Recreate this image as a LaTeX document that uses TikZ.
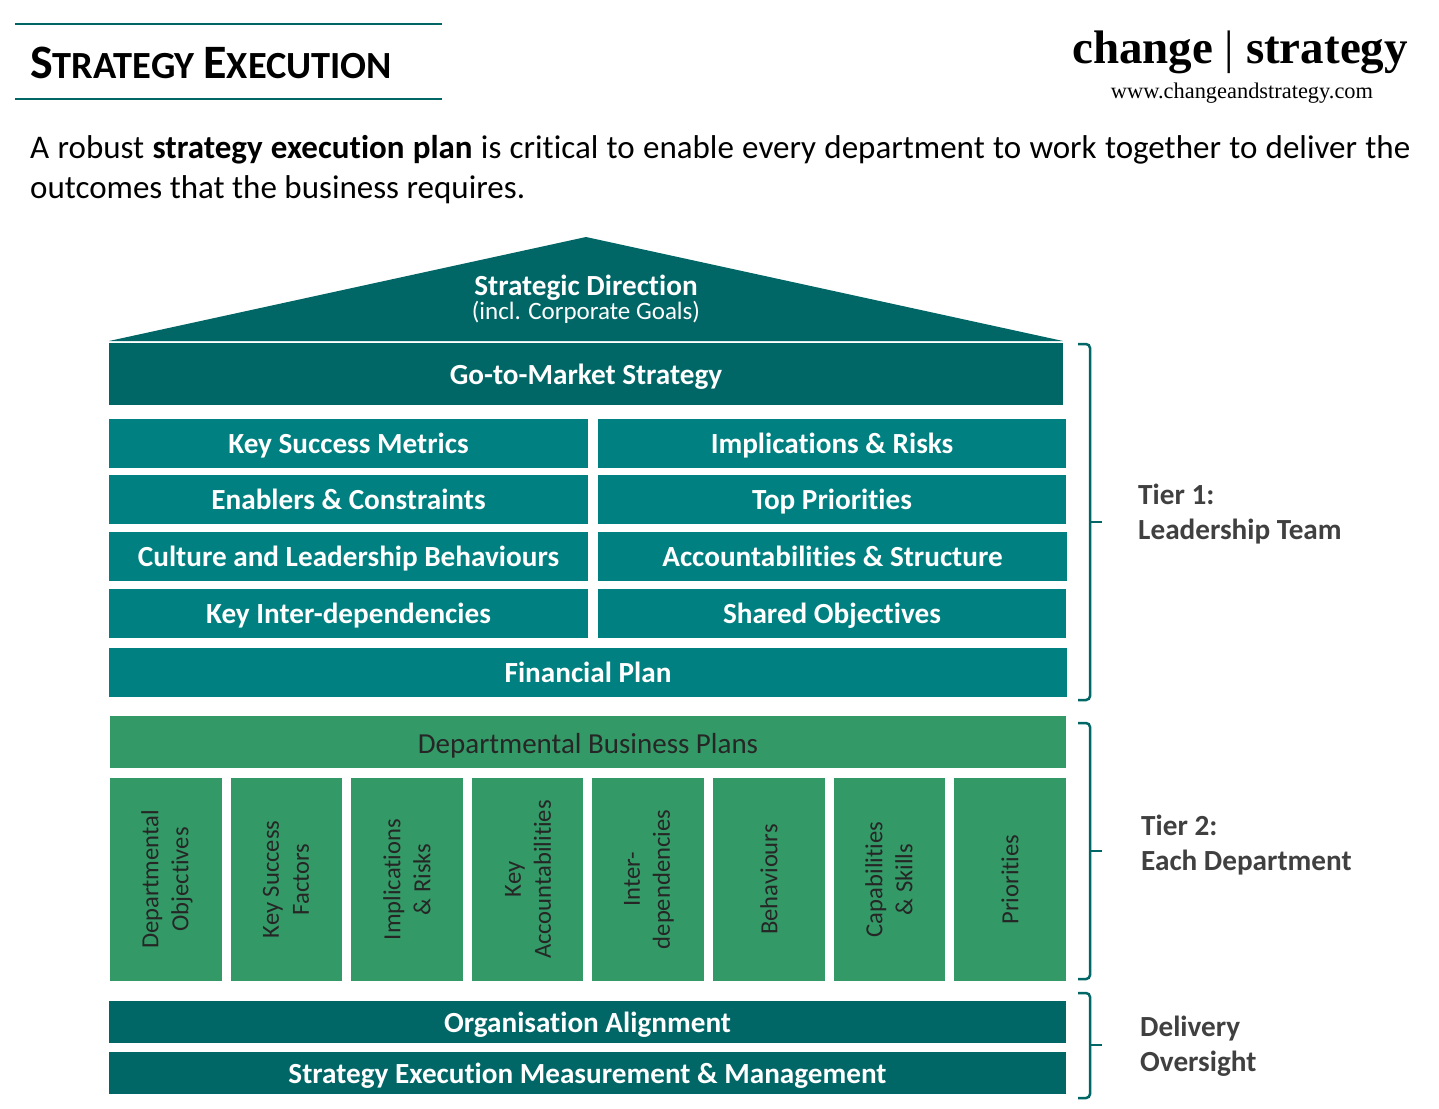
\documentclass[tikz,border=0pt]{standalone}
\usepackage{fontspec}
\setmainfont{Carlito}[Ligatures=CommonOff]
\newfontfamily\logofont{Liberation Serif}
\definecolor{darkteal}{HTML}{006666}
\definecolor{midteal}{HTML}{008080}
\definecolor{midgreen}{HTML}{339966}
\definecolor{tiergrey}{HTML}{404040}
\newcommand{\barfont}{\fontsize{29.2}{32}\selectfont\bfseries}
\newcommand{\colfont}{\fontsize{24.6}{30}\selectfont}
\newcommand{\titlecap}[1]{{\fontsize{48}{50}\selectfont #1}}
\tikzset{
  tealbar/.style={fill=midteal,text=white,inner sep=0pt,minimum height=49pt,text height=25pt,text depth=6pt,font=\barfont},
  darkbar/.style={fill=darkteal,text=white,inner sep=0pt,text height=27pt,text depth=6pt,font=\barfont},
  colbar/.style={fill=midgreen,inner sep=0pt,minimum width=112pt,minimum height=203pt},
  coltext/.style={rotate=90,align=center,inner sep=0pt,text=black!85,font=\colfont},
  tierlabel/.style={anchor=west,align=left,inner sep=0pt,text=tiergrey,font=\fontsize{29.2}{35}\selectfont\bfseries},
  tierbrace/.style={draw=darkteal,line width=2.5pt,rounded corners=4pt}
}
\begin{document}
\begin{tikzpicture}[x=1pt,y=-1pt]
      \useasboundingbox (0,0) rectangle (1439,1108);

      % header
      \coordinate (ra) at (15,24);
      \coordinate (rb) at (442,24);
      \coordinate (rc) at (15,99);
      \coordinate (rd) at (442,99);
      \draw[darkteal,line width=2pt] (ra) -- (rb);
      \draw[darkteal,line width=2pt] (rc) -- (rd);
      \node[anchor=base west,inner sep=0pt,font=\fontsize{38.4}{46}\selectfont\bfseries] (title) at (30,78){\titlecap{S}TRATEGY \titlecap{E}XECUTION};
      \node[inner sep=0pt,font=\logofont\fontsize{47}{50}\selectfont\bfseries] (logo) at (1240,52){change {\mdseries|} strategy};
      \node[inner sep=0pt,font=\logofont\fontsize{22.4}{26}\selectfont] (url) at (1242,93){www.changeandstrategy.com};
      \node[anchor=north west,inner sep=0pt,text width=1380pt,align=justify,font=\fontsize{33}{40}\selectfont] (intro) at (30,135){A robust \textbf{strategy execution plan} is critical to enable every department to work together to deliver the\linebreak outcomes that the business requires.};

      % roof
      \fill[darkteal] (586,237) -- (1063,341) -- (109,341) -- cycle;
      \node[inner sep=0pt,text=white,font=\barfont] (roof) at (586,287.5){Strategic Direction};
      \node[inner sep=0pt,text=white,font=\fontsize{25}{27}\selectfont] (roofsub) at (586,312.5){(incl. Corporate Goals)};
      \node[darkbar,minimum width=954pt,minimum height=62pt] (gtm) at (586,374){Go-to-Market Strategy};

      % tier 1
      \node[tealbar,minimum width=479pt] (l1) at (348.5,443.5){Key Success Metrics};
      \node[tealbar,minimum width=468pt] (r1) at (832,443.5){Implications \& Risks};
      \node[tealbar,minimum width=479pt] (l2) at (348.5,499.5){Enablers \& Constraints};
      \node[tealbar,minimum width=468pt] (r2) at (832,499.5){Top Priorities};
      \node[tealbar,minimum width=479pt] (l3) at (348.5,556.5){Culture and Leadership Behaviours};
      \node[tealbar,minimum width=469pt] (r3) at (832.5,556.5){Accountabilities \& Structure};
      \node[tealbar,minimum width=479pt] (l4) at (348.5,613.5){Key Inter-dependencies};
      \node[tealbar,minimum width=468pt] (r4) at (832,613.5){Shared Objectives};
      \node[tealbar,minimum width=958pt] (fin) at (588,672.5){Financial Plan};

      % tier 2
      \node[fill=midgreen,text=black!85,inner sep=0pt,minimum width=956pt,minimum height=52pt,text height=28pt,text depth=6pt,font=\fontsize{29}{32}\selectfont] (dbp) at (588,742){Departmental Business Plans};
      \node[colbar] (c1) at (166,879.5){};
      \node[colbar,minimum width=111pt] (c2) at (286.5,879.5){};
      \node[colbar] (c3) at (407,879.5){};
      \node[colbar,minimum width=111pt] (c4) at (527.5,879.5){};
      \node[colbar] (c5) at (648,879.5){};
      \node[colbar] (c6) at (769,879.5){};
      \node[colbar,minimum width=111pt] (c7) at (889.5,879.5){};
      \node[colbar] (c8) at (1010,879.5){};
      \node[coltext] (t1) at (167,879.5){Departmental\\Objectives};
      \node[coltext] (t2) at (286,879.5){Key Success\\Factors};
      \node[coltext] (t3) at (407,879.5){Implications\\\& Risks};
      \node[coltext] (t4) at (528,879.5){Key\\Accountabilities};
      \node[coltext] (t5) at (649,879.5){Inter-\\dependencies};
      \node[coltext] (t6) at (c6){Behaviours};
      \node[coltext] (t7) at (889,879.5){Capabilities\\\& Skills};
      \node[coltext] (t8) at (c8){Priorities};

      % delivery
      \node[darkbar,minimum width=957pt,minimum height=42pt] (org) at (587.5,1022){Organisation Alignment};
      \node[darkbar,minimum width=957pt,minimum height=42pt] (sem) at (587.5,1073){Strategy Execution Measurement \& Management};

      % braces
      \coordinate (bx) at (1090,0);
      \coordinate (ba) at (1078,344);
      \coordinate (bt) at (1102,522);
      \coordinate (bb) at (1078,700);
      \coordinate (bc) at (1078,723);
      \coordinate (bu) at (1102,851);
      \coordinate (bd) at (1078,979);
      \coordinate (be) at (1078,993);
      \coordinate (bv) at (1102,1045);
      \coordinate (bf) at (1078,1098);
      \draw[tierbrace] (ba) -- (ba -| bx) -- (bt -| bx) -- (bb -| bx) -- (bb);
      \draw[tierbrace] (bt -| bx) -- (bt);
      \draw[tierbrace] (bc) -- (bc -| bx) -- (bu -| bx) -- (bd -| bx) -- (bd);
      \draw[tierbrace] (bu -| bx) -- (bu);
      \draw[tierbrace] (be) -- (be -| bx) -- (bv -| bx) -- (bf -| bx) -- (bf);
      \draw[tierbrace] (bv -| bx) -- (bv);
      \node[tierlabel] (tier1) at (1138,514){Tier 1:\\Leadership Team};
      \node[tierlabel] (tier2) at (1141,845){Tier 2:\\Each Department};
      \node[tierlabel] (tier3) at (1140,1046){Delivery\\Oversight};
\end{tikzpicture}
\end{document}
